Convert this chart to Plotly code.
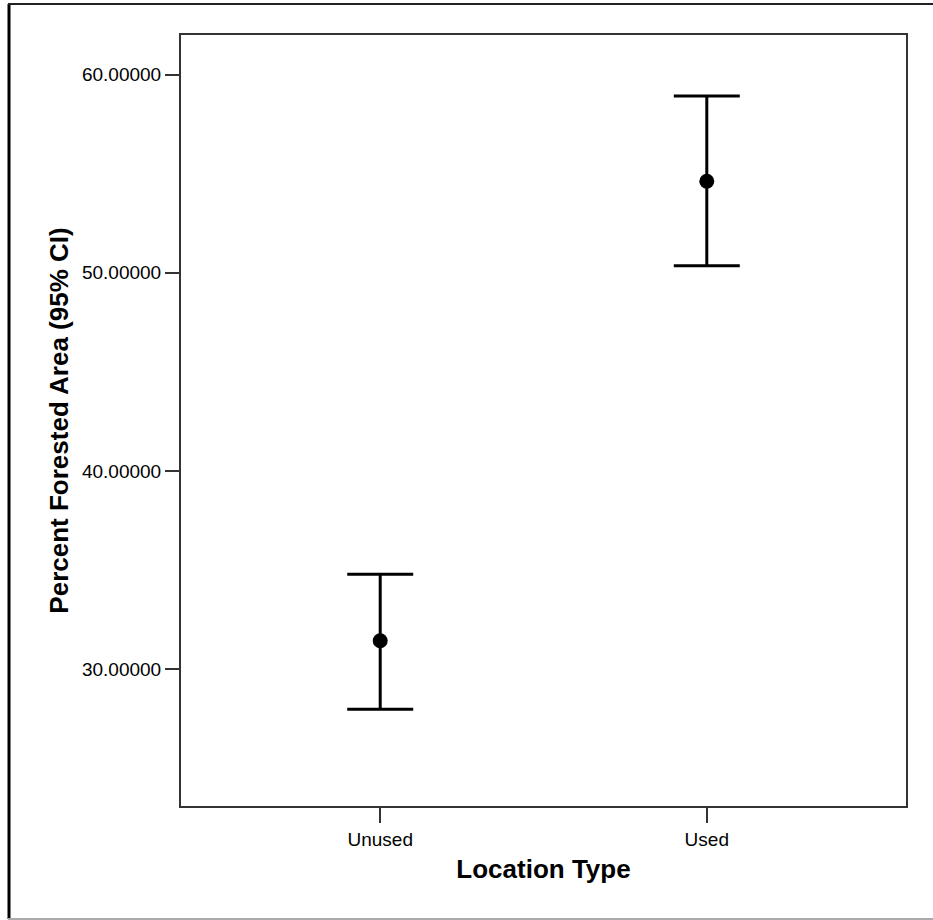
import plotly.graph_objects as go

categories = ["Unused", "Used"]
means = [31.44, 54.62]
lower_ci = [27.98, 50.36]
upper_ci = [34.79, 58.92]
y_tickvals = [30, 40, 50, 60]

err_plus = [u - m for u, m in zip(upper_ci, means)]
err_minus = [m - l for m, l in zip(means, lower_ci)]

fig = go.Figure()
fig.add_trace(go.Scatter(
    x=categories, y=means, mode="markers",
    marker=dict(color="black", size=15),
    error_y=dict(type="data", array=err_plus, arrayminus=err_minus,
                 color="black", thickness=3, width=33),
    showlegend=False,
))

L, R, T, B = 181, 27, 35, 114
W, H = 933, 920
pw, ph = W - L - R, H - T - B

def px(x):
    return (x - L) / pw

def py(y):
    return (H - B - y) / ph

FONT = "Liberation Sans, Arial, sans-serif"

fig.update_layout(
    width=W, height=H,
    margin=dict(l=L, r=R, t=T, b=B, pad=0),
    paper_bgcolor="white", plot_bgcolor="white",
    font=dict(family=FONT, color="black"),
    xaxis=dict(
        type="category", range=[-0.61, 1.61],
        showline=True, linecolor="#333333", linewidth=2, mirror=True,
        ticks="outside", ticklen=15, tickwidth=1.5, tickcolor="#333333",
        showgrid=False, zeroline=False,
        tickfont=dict(size=19, family=FONT),
        title=dict(text="<b>Location Type</b>", standoff=11,
                   font=dict(size=26, family=FONT)),
    ),
    yaxis=dict(
        range=[23.1, 62.0], tickvals=y_tickvals, tickformat=".5f",
        showline=True, linecolor="#333333", linewidth=2, mirror=True,
        ticks="outside", ticklen=14, tickwidth=1.5, tickcolor="#333333",
        showgrid=False, zeroline=False,
        tickfont=dict(size=19, family=FONT),
        title=dict(text="<b>Percent Forested Area (95% CI)</b>", standoff=6,
                   font=dict(size=26, family=FONT)),
    ),
    shapes=[
        dict(type="line", xref="paper", yref="paper",
             x0=px(9), x1=px(9), y0=py(4), y1=py(919),
             line=dict(color="black", width=3)),
        dict(type="line", xref="paper", yref="paper",
             x0=px(8), x1=px(933), y0=py(4), y1=py(4),
             line=dict(color="#222222", width=2)),
        dict(type="line", xref="paper", yref="paper",
             x0=px(8), x1=px(933), y0=py(919), y1=py(919),
             line=dict(color="#aaaaaa", width=2)),
    ],
)

fig.write_html("out.html",
               config={"displayModeBar": False},
               post_script="document.body.style.margin='0';document.body.style.overflow='hidden';")
